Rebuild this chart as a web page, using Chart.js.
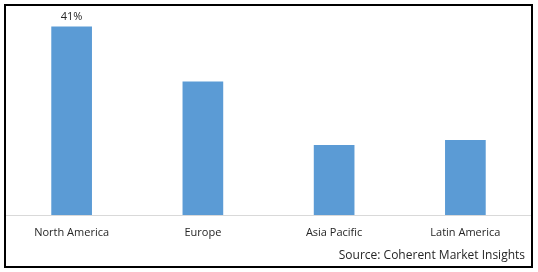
<!DOCTYPE html>
<html>
<head>
<meta charset="utf-8">
<script src="https://cdn.jsdelivr.net/npm/chart.js@4.4.1/dist/chart.umd.min.js"></script>
<style>
    body { margin: 0; background: #fff; }
    #box {
        position: absolute; left: 4px; top: 4px;
        width: 529px; height: 264px;
        box-sizing: border-box; border: 2px solid #000;
    }
    #wrap { position: absolute; left: 0; top: 0; width: 525px; height: 260px; }
</style>
</head>
<body>
<div id="box"><div id="wrap"><canvas id="myChart"></canvas></div></div>
<script>
// chart data
var regions = ['North America', 'Europe', 'Asia Pacific', 'Latin America'];
var shares = [41, 29, 15.2, 16.3];
var shareLabels = ['41%', '', '', ''];
var sourceText = 'Source: Coherent Market Insights';

var fontName = '"Open Sans", "Liberation Sans", sans-serif';

// draws the value label over the bar and the source line
var extraText = {
    id: 'extraText',
    afterDatasetsDraw: function (chart) {
        var ctx = chart.ctx;
        var meta = chart.getDatasetMeta(0);
        ctx.save();
        ctx.fillStyle = '#262626';
        ctx.font = '11px ' + fontName;
        ctx.textAlign = 'center';
        ctx.textBaseline = 'middle';
        for (var i = 0; i < meta.data.length; i++) {
            if (shareLabels[i] === '') continue;
            var bar = meta.data[i];
            ctx.fillText(shareLabels[i], bar.x, bar.y - 10);
        }
        ctx.font = '12px ' + fontName;
        ctx.textAlign = 'right';
        ctx.fillText(sourceText, chart.width - 6, chart.height - 10);
        ctx.restore();
    }
};

var ctx = document.getElementById('myChart').getContext('2d');
var myChart = new Chart(ctx, {
    type: 'bar',
    data: {
        labels: regions,
        datasets: [{
            data: shares,
            backgroundColor: '#5B9BD5',
            borderWidth: 0,
            barPercentage: 0.31,
            categoryPercentage: 1
        }]
    },
    options: {
        responsive: true,
        maintainAspectRatio: false,
        animation: false,
        layout: { padding: { top: 2, left: 0, right: 0, bottom: 0 } },
        plugins: {
            legend: { display: false },
            tooltip: { enabled: false }
        },
        scales: {
            x: {
                grid: { display: false, drawTicks: false },
                border: { display: true, color: '#d9d9d9', width: 1 },
                ticks: {
                    color: '#262626',
                    padding: 11,
                    font: { family: fontName, size: 11 }
                },
                afterFit: function (scale) { scale.height = 51; }
            },
            y: {
                display: false,
                min: 0,
                max: 45
            }
        }
    },
    plugins: [extraText]
});
</script>
</body>
</html>
